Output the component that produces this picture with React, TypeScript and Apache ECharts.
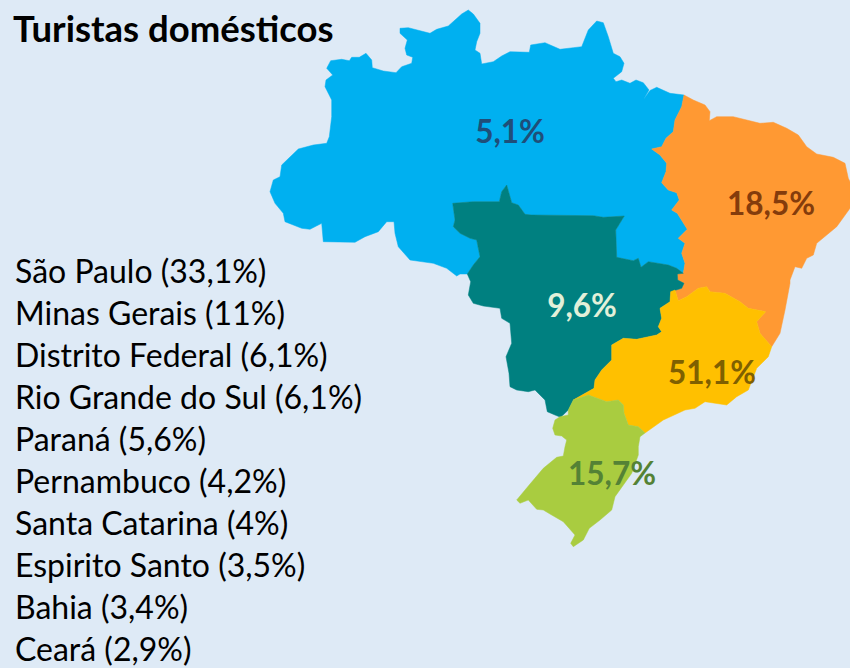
import React, { useEffect, useRef } from "react";
import * as echarts from "echarts";

const TITLE = "Turistas domésticos";
const STATES = ["São Paulo (33,1%)", "Minas Gerais (11%)", "Distrito Federal (6,1%)", "Rio Grande do Sul (6,1%)", "Paraná (5,6%)", "Pernambuco (4,2%)", "Santa Catarina (4%)", "Espirito Santo (3,5%)", "Bahia (3,4%)", "Ceará (2,9%)"];
const REGION_NAMES = ["Norte", "Nordeste", "Centro-Oeste", "Sudeste", "Sul"];
const REGION_VALUES = [5.1, 18.5, 9.6, 51.1, 15.7];
const REGION_COLORS = ["#00B0F0", "#FF9933", "#008080", "#FFC000", "#A9CC40"];
const LABEL_COLORS = ["#1F4E79", "#843C0C", "#E2F0D9", "#7F6000", "#548235"];
const LABEL_POINTS = [[510, 131], [771, 203], [582, 305], [712, 372], [612, 473]];

type P = number[];
const northCoast: P[] = [[467.3, 274], [460, 274], [456.7, 276], [446.7, 268.3], [433.3, 263.3], [410, 260], [398.3, 246.7], [395, 233.3], [394, 221.7], [386.7, 221.7], [378.3, 231.7], [365, 236.7], [355, 242.3], [323.3, 241.7], [321.7, 223.3], [310, 229.3], [301.7, 228.3], [285, 221.7], [283.3, 213.3], [275, 203.3], [270, 191.7], [273.3, 180], [280, 176.7], [281.7, 165], [298.3, 149], [313.3, 145], [326.7, 143.3], [329.3, 136.7], [331.7, 116.7], [331.7, 100], [325, 86.7], [326, 80], [332.7, 75], [326.7, 68.3], [330.7, 60.7], [341.7, 59.3], [349.3, 60.7], [351.7, 57.3], [359.3, 57.3], [366, 53.3], [371.7, 60], [372.3, 67.7], [383.3, 71], [396, 72.7], [401.7, 66.7], [411.7, 63.3], [412.7, 57.3], [406.7, 55], [405, 48.3], [407.3, 40], [400, 33.3], [400, 28.3], [408.3, 27.7], [430, 33.3], [436.7, 29.3], [448.3, 26], [461.7, 14], [468.3, 10], [473.3, 14], [480, 23.3], [480, 33.3], [476.7, 41.7], [475, 50], [480, 53.3], [481.7, 64], [493.3, 61.7], [501.7, 56], [510, 51.7], [529.3, 52.3], [530.7, 45], [545, 42.7], [560, 49.3], [573.3, 47.7], [581.7, 46.7], [588.3, 30], [596.7, 21], [603.3, 22.7], [608.3, 36.7], [613.3, 53.3], [620, 56.7], [624, 63.3], [621.7, 71.7], [613.3, 78.3], [616, 81.7], [621.7, 80], [630, 83.3], [636, 80], [643.3, 82.7], [649, 90], [643.5, 99.5], [650, 90.5], [656.7, 87.3], [670, 93.3], [684, 95]];
const northEast: P[] = [[684, 95], [681.7, 106.7], [675, 120], [673.3, 131.7], [666, 138.3], [661.7, 146.7], [651.7, 149], [660, 155], [666.7, 163.3], [666, 171.7], [661.7, 182.7], [668.3, 190], [676.7, 192.7], [679.3, 200], [671.7, 210], [677.3, 213.3], [687.3, 229.3], [678.3, 238.3], [685, 243.3], [681.7, 253.3], [685, 263.3], [683.3, 273.3]];
const northMid: P[] = [[683.3, 273.3], [676.7, 268.3], [668.3, 265], [648.3, 261.7], [641, 267.3], [638.3, 258.3], [633.3, 260.7], [616.7, 257.3], [615.7, 230], [624.3, 216], [603.3, 217.3], [593.3, 215.7], [531.7, 215], [525, 214.3], [518.3, 205], [511.7, 202.7], [506.7, 185], [501.7, 191.7], [499.3, 201.7], [473.3, 201.7], [452.7, 203.3], [455, 220], [453.3, 226.7], [460, 233.3], [470, 238.3], [476.7, 240], [480, 256.7], [473.3, 265], [467.3, 274]];
const midEastOrange: P[] = [[683.3, 273.3], [677.3, 274], [677.7, 280], [684, 283.3], [681.7, 288.3], [670.7, 291.7]];
const midYellow: P[] = [[670.7, 291.7], [670, 301.7], [660, 308.3], [661.7, 318.3], [658.3, 326.7], [661.7, 331.7], [656.7, 335], [636.7, 339.3], [623.3, 338.3], [611.7, 345], [611.7, 360], [601.7, 370], [595, 380], [594, 388.3], [573.3, 400]];
const midWest: P[] = [[573.3, 400], [568.3, 410], [560.7, 417.3], [555, 415], [547.3, 411.7], [545, 400], [535, 390], [528.3, 391.7], [516.7, 390], [510, 386.7], [509, 373.3], [506, 356.7], [511.7, 343.3], [510, 323.3], [501.7, 318.3], [500, 308.3], [483.3, 306], [473.3, 303.3], [468.3, 295], [470.7, 281.7], [467.3, 274]];
const orangeYellow: P[] = [[670.7, 291.7], [675, 290], [678.3, 300.7], [686.7, 296.7], [698.3, 288.3], [706.7, 286.7], [710, 291.7], [725, 293.3], [740, 301.7], [748.3, 308.3], [765.7, 311.7], [756.7, 321.7], [760, 333.3], [771.7, 346.7]];
const orangeCoast: P[] = [[771.7, 346.7], [780, 333.3], [785, 310], [790, 283.3], [790, 280], [795, 266.7], [801.7, 268.3], [806.7, 258.3], [813.3, 255], [816.7, 243.3], [836.7, 226.7], [850, 208.3], [850, 181.7], [848.3, 178.3], [845, 163.3], [833.3, 157.3], [816.7, 154], [806.7, 146.7], [798.3, 135], [786.7, 128.3], [773.3, 122.3], [760, 123.3], [733.3, 116.7], [716.7, 116.7], [709.3, 120.7], [710, 111.7], [705, 105], [693.3, 100], [684, 95]];
const yellowCoast: P[] = [[771.7, 346.7], [768.3, 356.7], [756.7, 368.3], [748.3, 390], [736.7, 396.7], [726.7, 405], [705, 401.7], [695, 408.3], [685, 410], [663.3, 420], [645, 433]];
const yellowGreen: P[] = [[645, 433], [638.3, 426.7], [628.3, 425], [624, 413.3], [623.3, 405], [618.3, 400], [606.7, 401.7], [588.3, 395], [573.3, 400]];
const greenCoast: P[] = [[645, 433], [640, 436.7], [638.3, 446.7], [638.3, 455], [631.7, 473.3], [615, 496.7], [611.7, 510], [600, 520], [589.3, 528.3], [583.3, 540], [573.3, 546.7], [570.7, 543.3], [575, 535], [563.3, 521.7], [550, 514], [543.3, 510], [536.7, 509.3], [528.3, 500], [520, 503.3], [516.7, 500], [530, 484], [543.3, 468.3], [556.7, 457.3], [563.3, 456], [565, 446.7], [566.7, 440], [561.7, 436], [555, 435], [552.7, 428.3], [555, 420], [560, 416.7], [568.3, 415], [568.3, 410]];

const rev = (a: P[]) => [...a].reverse();
const closed = (...parts: P[][]) => {
  const ring = parts.flat();
  return [...ring, ring[0]];
};
const RINGS = [
  closed(northCoast, northEast, northMid),
  closed(rev(northEast), rev(orangeCoast), rev(orangeYellow), rev(midEastOrange)),
  closed(rev(northMid), midEastOrange, midYellow, midWest),
  closed(orangeYellow, yellowCoast, yellowGreen, rev(midYellow)),
  closed(rev(yellowGreen), greenCoast, [[573.3, 400]]),
];

const geoJson = {
  type: "FeatureCollection",
  features: REGION_NAMES.map((name, i) => ({
    type: "Feature",
    properties: { name, cp: LABEL_POINTS[i] },
    geometry: { type: "Polygon", coordinates: [RINGS[i]] },
  })),
};

const FONT = "Lato, 'Open Sans', sans-serif";
const BG = "#DEEAF6";

export default function App() {
  const ref = useRef<HTMLDivElement>(null);
  useEffect(() => {
    document.body.style.margin = "0";
    document.body.style.background = BG;
    const chart = echarts.init(ref.current!, undefined, { renderer: "svg" });
    echarts.registerMap("brasil", geoJson as any);
    const all = RINGS.flat();
    const xs = all.map((p) => p[0]);
    const ys = all.map((p) => p[1]);
    const minX = Math.min(...xs), maxX = Math.max(...xs), minY = Math.min(...ys), maxY = Math.max(...ys);
    chart.setOption({
      animation: false,
      backgroundColor: BG,
      series: [
        {
          type: "map",
          map: "brasil",
          projection: { project: (p: number[]) => p, unproject: (p: number[]) => p },
          left: minX,
          top: minY,
          width: maxX - minX,
          height: maxY - minY,
          roam: false,
          silent: true,
          selectedMode: false,
          emphasis: { disabled: true },
          data: REGION_NAMES.map((name, i) => ({
            name,
            value: REGION_VALUES[i],
            itemStyle: { areaColor: REGION_COLORS[i], borderColor: REGION_COLORS[i], borderWidth: 0.5 },
            label: {
              show: true,
              color: LABEL_COLORS[i],
              fontFamily: FONT,
              fontWeight: "bold",
              fontSize: 31.5,
              formatter: (p: any) => String(p.value).replace(".", ",") + "%",
            },
          })),
        },
      ],
      graphic: [
        { type: "text", x: 13, y: 28, style: { text: TITLE, fill: "#000", font: `bold 36.5px ${FONT}`, verticalAlign: "middle" } },
        ...STATES.map((text, i) => ({
          type: "text",
          x: 15,
          y: 270.5 + i * 42,
          style: { text, fill: "#000", font: `32px ${FONT}`, verticalAlign: "middle" },
        })),
      ],
    });
    return () => chart.dispose();
  }, []);
  return <div ref={ref} style={{ position: "absolute", left: 0, top: 0, width: 850, height: 668 }} />;
}
